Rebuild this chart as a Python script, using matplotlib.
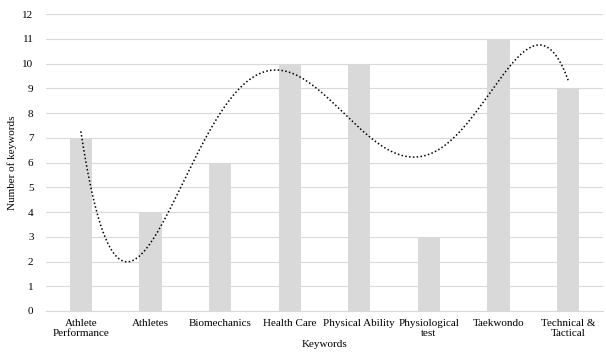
import numpy as np
import matplotlib
matplotlib.use("Agg")
import matplotlib.pyplot as plt

categories = ["Athlete\nPerformance", "Athletes", "Biomechanics", "Health Care",
              "Physical Ability", "Physiological\ntest", "Taekwondo", "Technical &\nTactical"]
values = [7, 4, 6, 10, 10, 3, 11, 9]
y_ticks = list(range(0, 13))

plt.rcParams['font.family'] = ['Liberation Serif', 'DejaVu Serif']

fig = plt.figure(figsize=(6.06, 3.53), dpi=100)
ax = fig.add_axes([0.076, 0.119, 0.919, 0.841])

x = np.arange(1, len(values) + 1)
ax.bar(x, values, width=0.32, color="#d9d9d9", zorder=2)

# polynomial trendline (order 5) fitted to the bar values
coef = np.polyfit(x, values, 5)
xs = np.linspace(1, len(values), 400)
ax.plot(xs, np.polyval(coef, xs), color="black", linestyle=(0, (1, 1.5)), linewidth=1.1, zorder=3)

ax.set_xlim(0.5, len(values) + 0.5)
ax.set_ylim(0, 12)
ax.set_yticks(y_ticks)
ax.set_xticks(x)
ax.set_xticklabels(categories, fontsize=8, linespacing=1.05)
ax.tick_params(axis='y', labelsize=8, length=0, pad=9)
ax.tick_params(axis='x', length=0, pad=6)
ax.grid(axis='y', color="#d9d9d9", linewidth=0.8, zorder=0)
for s in ["top", "right", "left"]:
    ax.spines[s].set_visible(False)
ax.spines["bottom"].set_color("#d9d9d9")
ax.spines["bottom"].set_linewidth(0.8)

ax.set_ylabel("Number of keywords", fontsize=8, labelpad=4)
ax.set_xlabel("Keywords", fontsize=8, labelpad=2)

fig.savefig("out.png", dpi=100)
